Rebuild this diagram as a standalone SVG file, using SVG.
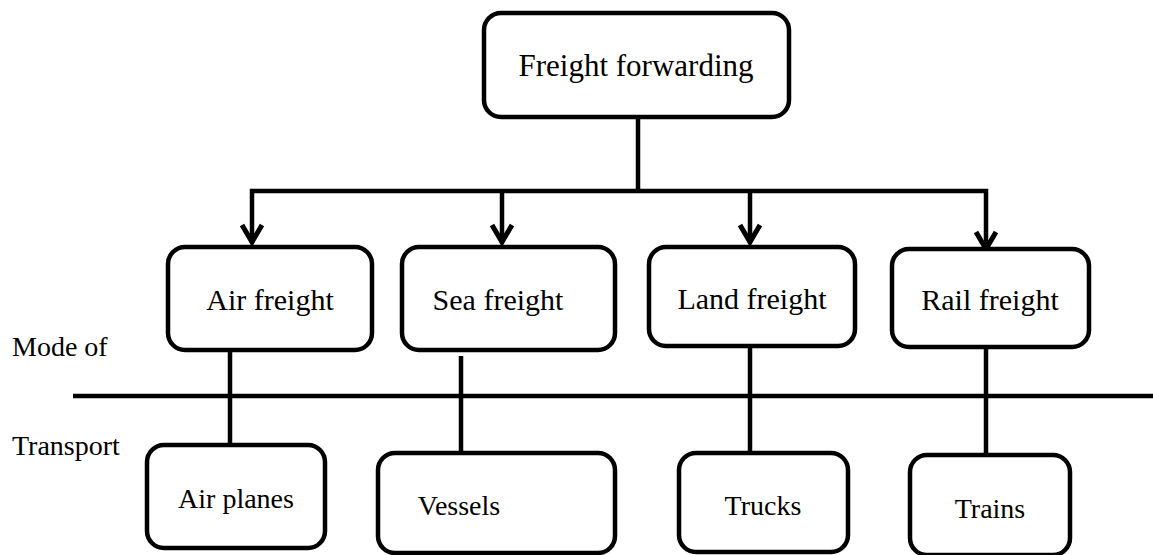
<svg xmlns="http://www.w3.org/2000/svg" width="1153" height="555" viewBox="0 0 1153 555">
<style>
.box{fill:#fff;stroke:#000;stroke-width:4.5}
.ln{fill:none;stroke:#000;stroke-width:4.5}
.ah{fill:none;stroke:#000;stroke-width:5;stroke-linejoin:miter}
.tx{font-family:'Liberation Serif','Times New Roman',serif;fill:#000}
.t1{font-size:31px}
.t2{font-size:30px}
.t3{font-size:28px}
</style>
<rect width="1153" height="555" fill="#fff"/>
<g id="connectors">
<line class="ln" x1="638" y1="117" x2="638" y2="191"/>
<polyline class="ln" points="252,243 252,191 986,191 986,250"/>
<line class="ln" x1="502" y1="191" x2="502" y2="243"/>
<line class="ln" x1="750" y1="191" x2="750" y2="243"/>
<polyline class="ah" points="242,225 252,242 262,225"/>
<polyline class="ah" points="492,225 502,242 512,225"/>
<polyline class="ah" points="740,225 750,242 760,225"/>
<polyline class="ah" points="976,232 986,249 996,232"/>
<line class="ln" x1="230" y1="350" x2="230" y2="445"/>
<line class="ln" x1="461" y1="356" x2="461" y2="453"/>
<line class="ln" x1="750" y1="346" x2="750" y2="453"/>
<line class="ln" x1="986" y1="344" x2="986" y2="455"/>
</g>
<g id="divider">
<line class="ln" x1="73" y1="396" x2="1153" y2="396"/>
</g>
<g id="label-mode">
<text class="tx t3" font-family="Liberation Serif, serif" x="12" y="356">Mode of</text>
</g>
<g id="label-transport">
<text class="tx t3" font-family="Liberation Serif, serif" x="12" y="455">Transport</text>
</g>
<g id="freight-forwarding">
<rect class="box" x="484" y="13" width="305" height="104" rx="17"/>
<text class="tx t1" font-family="Liberation Serif, serif" x="636" y="76" text-anchor="middle">Freight forwarding</text>
</g>
<g id="air-freight">
<rect class="box" x="168" y="247" width="204" height="103" rx="17"/>
<text class="tx t2" font-family="Liberation Serif, serif" x="270" y="310" text-anchor="middle">Air freight</text>
</g>
<g id="sea-freight">
<rect class="box" x="402" y="247" width="213" height="103" rx="17"/>
<text class="tx t2" font-family="Liberation Serif, serif" x="498" y="310" text-anchor="middle">Sea freight</text>
</g>
<g id="land-freight">
<rect class="box" x="649" y="247" width="206" height="99" rx="17"/>
<text class="tx t2" font-family="Liberation Serif, serif" x="752" y="309" text-anchor="middle">Land freight</text>
</g>
<g id="rail-freight">
<rect class="box" x="892" y="249" width="197" height="98" rx="17"/>
<text class="tx t2" font-family="Liberation Serif, serif" x="990" y="310" text-anchor="middle">Rail freight</text>
</g>
<g id="air-planes">
<rect class="box" x="147" y="445" width="178" height="103" rx="17"/>
<text class="tx t3" font-family="Liberation Serif, serif" x="236" y="508" text-anchor="middle">Air planes</text>
</g>
<g id="vessels">
<rect class="box" x="378" y="453" width="237" height="100" rx="17"/>
<text class="tx t3" font-family="Liberation Serif, serif" x="459" y="515" text-anchor="middle">Vessels</text>
</g>
<g id="trucks">
<rect class="box" x="679" y="453" width="169" height="99" rx="17"/>
<text class="tx t3" font-family="Liberation Serif, serif" x="763" y="515" text-anchor="middle">Trucks</text>
</g>
<g id="trains">
<rect class="box" x="910" y="455" width="160" height="100" rx="17"/>
<text class="tx t3" font-family="Liberation Serif, serif" x="990" y="518" text-anchor="middle">Trains</text>
</g>
</svg>
